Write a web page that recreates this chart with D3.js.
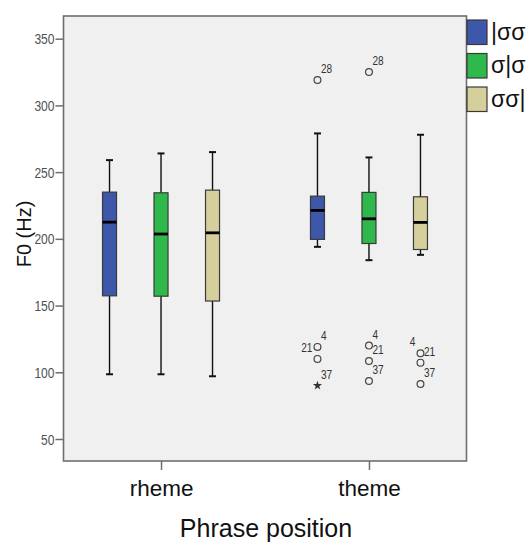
<!DOCTYPE html>
<html>
<head>
<meta charset="utf-8">
<script src="https://cdn.jsdelivr.net/npm/d3@7"></script>
<style>
  html, body { margin: 0; padding: 0; background: #ffffff; }
  svg { display: block; }
</style>
</head>
<body>
<svg id="chart" width="528" height="543"></svg>
<script>
// ---------- data ----------
const categories = ["rheme", "theme"];
const series = ["|σσ", "σ|σ", "σσ|"];
const yTicks = [50, 100, 150, 200, 250, 300, 350];
// [category][series]
const whiskerLow  = [[98.5, 98.5, 97.0], [194.0, 184.0, 188.0]];
const q1          = [[157.3, 157.0, 153.4], [199.6, 196.5, 192.0]];
const median      = [[212.5, 203.6, 204.5], [221.3, 215.0, 212.3]];
const q3          = [[235.0, 234.5, 236.5], [232.0, 234.8, 231.5]];
const whiskerHigh = [[259.0, 264.0, 265.0], [279.0, 261.0, 278.0]];
// outliers: category, series index, value, case id, kind, label side
const outlierCat   = ["theme","theme","theme","theme", "theme","theme","theme","theme", "theme","theme","theme"];
const outlierSer   = [0,0,0,0, 1,1,1,1, 2,2,2];
const outlierValue = [319, 119, 110, 90, 325, 120, 108.4, 93.4, 114.2, 107.2, 91.2];
const outlierId    = ["28","4","21","37", "28","4","21","37", "4","21","37"];
const outlierKind  = ["o","o","o","*", "o","o","o","o", "o","o","o"];
const outlierSide  = ["r","r","l","r", "r","r","r","r", "l","r","r"];

// ---------- styles ----------
const colors = ["#3d57aa", "#2fb84b", "#d5d09b"];
const frame = { left: 63.5, right: 466.5, top: 16, bottom: 461 };

const svg = d3.select("#chart");

const x = d3.scalePoint().domain(categories).range([frame.left, frame.right]).padding(0.469);
const xs = d3.scalePoint().domain(d3.range(series.length)).range([-51.5, 51.5]);
const y = d3.scaleLinear().domain([33.5, 367]).range([frame.bottom, frame.top]);

// plot background
svg.append("rect")
  .attr("x", frame.left).attr("y", frame.top)
  .attr("width", frame.right - frame.left).attr("height", frame.bottom - frame.top)
  .attr("fill", "#f0f0f0").attr("stroke", "#6e6e6e").attr("stroke-width", 1.6);

// y axis
const yAxis = d3.axisLeft(y).tickValues(yTicks).tickSize(8).tickPadding(1).tickFormat(d3.format("d"));
const gy = svg.append("g").attr("transform", `translate(${frame.left},0)`).call(yAxis);
gy.select(".domain").remove();
gy.selectAll(".tick line").attr("stroke", "#6e6e6e").attr("stroke-width", 1.5);
gy.selectAll(".tick text")
  .attr("fill", "#505050")
  .style("font-family", "'Liberation Sans', Arial, sans-serif")
  .style("font-size", "14px")
  .attr("dy", "0.36em")
  .attr("textLength", d => String(d).length * 6.7)
  .attr("lengthAdjust", "spacingAndGlyphs");

// x axis
const xAxis = d3.axisBottom(x).tickSize(9).tickPadding(10);
const gx = svg.append("g").attr("transform", `translate(0,${frame.bottom})`).call(xAxis);
gx.select(".domain").remove();
gx.selectAll(".tick line").attr("stroke", "#6e6e6e").attr("stroke-width", 1.5);
gx.selectAll(".tick text")
  .attr("fill", "#111")
  .style("font-family", "'Liberation Sans', Arial, sans-serif")
  .style("font-size", "22.5px");

// axis titles
svg.append("text")
  .attr("x", (frame.left + frame.right) / 2 + 1).attr("y", 537)
  .attr("text-anchor", "middle")
  .style("font-family", "'Liberation Sans', Arial, sans-serif")
  .style("font-size", "25px").attr("fill", "#111")
  .text("Phrase position");

svg.append("text")
  .attr("transform", "translate(31,234) rotate(-90)")
  .attr("text-anchor", "middle")
  .style("font-family", "'Liberation Sans', Arial, sans-serif")
  .style("font-size", "20px").attr("fill", "#111")
  .text("F0 (Hz)");

// boxes
const boxW = 14, capW = 6;
const boxes = [];
categories.forEach((c, ci) => series.forEach((s, si) => boxes.push({ c, ci, si })));

const gb = svg.append("g");
boxes.forEach(b => {
  const cx = x(b.c) + xs(b.si);
  const g = gb.append("g");
  // whiskers
  g.append("line").attr("x1", cx).attr("x2", cx)
    .attr("y1", y(whiskerHigh[b.ci][b.si])).attr("y2", y(q3[b.ci][b.si]))
    .attr("stroke", "#111").attr("stroke-width", 1.4);
  g.append("line").attr("x1", cx).attr("x2", cx)
    .attr("y1", y(q1[b.ci][b.si])).attr("y2", y(whiskerLow[b.ci][b.si]))
    .attr("stroke", "#111").attr("stroke-width", 1.4);
  [whiskerHigh, whiskerLow].forEach(arr => {
    g.append("line").attr("x1", cx - capW / 2 - 0.5).attr("x2", cx + capW / 2 + 0.5)
      .attr("y1", y(arr[b.ci][b.si])).attr("y2", y(arr[b.ci][b.si]))
      .attr("stroke", "#111").attr("stroke-width", 2);
  });
  // box
  g.append("rect")
    .attr("x", cx - boxW / 2).attr("width", boxW)
    .attr("y", y(q3[b.ci][b.si])).attr("height", y(q1[b.ci][b.si]) - y(q3[b.ci][b.si]))
    .attr("fill", colors[b.si]).attr("stroke", "#3a3a3a").attr("stroke-width", 1.2);
  // median
  g.append("line").attr("x1", cx - boxW / 2).attr("x2", cx + boxW / 2)
    .attr("y1", y(median[b.ci][b.si])).attr("y2", y(median[b.ci][b.si]))
    .attr("stroke", "#000").attr("stroke-width", 2.8);
});

// outliers
const go = svg.append("g");
outlierValue.forEach((v, i) => {
  const cx = x(outlierCat[i]) + xs(outlierSer[i]);
  const cy = y(v);
  if (outlierKind[i] === "*") {
    go.append("path")
      .attr("d", d3.symbol().type(d3.symbolStar).size(26)())
      .attr("transform", `translate(${cx},${cy})`)
      .attr("fill", "#333");
  } else {
    go.append("circle").attr("cx", cx).attr("cy", cy).attr("r", 3.4)
      .attr("fill", "none").attr("stroke", "#444").attr("stroke-width", 1.2);
  }
  const right = outlierSide[i] === "r";
  go.append("text")
    .attr("x", right ? cx + 3.5 : cx - 5)
    .attr("y", cy - 7)
    .attr("text-anchor", right ? "start" : "end")
    .style("font-family", "'Liberation Sans', Arial, sans-serif")
    .style("font-size", "12px").attr("fill", "#333")
    .attr("textLength", outlierId[i].length * 5.6)
    .attr("lengthAdjust", "spacingAndGlyphs")
    .text(outlierId[i]);
});

// legend
const legend = svg.append("g");
series.forEach((s, i) => {
  const ly = 20 + i * 33.5;
  legend.append("rect").attr("x", 467).attr("y", ly).attr("width", 20).attr("height", 24.5)
    .attr("fill", colors[i]).attr("stroke", "#3a3a3a").attr("stroke-width", 1.2);
  legend.append("text").attr("x", 491).attr("y", ly + 19.5)
    .style("font-family", "'Liberation Sans', Arial, sans-serif")
    .style("font-size", "23px").attr("fill", "#111")
    .text(s);
});
</script>
</body>
</html>
